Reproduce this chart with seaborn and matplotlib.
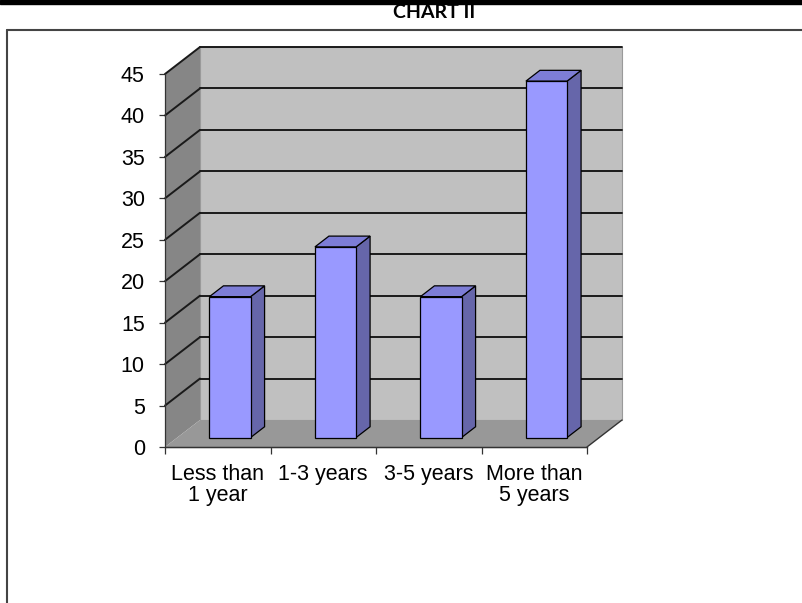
import numpy as np
import pandas as pd
import matplotlib
matplotlib.use("Agg")
import matplotlib.pyplot as plt
from matplotlib.patches import Polygon, Rectangle
from matplotlib.lines import Line2D
from matplotlib.transforms import IdentityTransform, Affine2D
import seaborn as sns

# Data
categories = ["Less than\n1 year", "1-3 years", "3-5 years", "More than\n5 years"]
percent = [17, 23, 17, 43]
y_ticks = [0, 5, 10, 15, 20, 25, 30, 35, 40, 45]

# Colours (classic 3-D column look)
FRONT = "#9999FF"
SIDE = "#6666AA"
TOP = "#7D7DD6"
BACK_WALL = "#C0C0C0"
SIDE_WALL = "#868686"
FLOOR = "#989898"
GRID = "#1A1A1A"

sns.set_theme(style="white")
plt.rcParams["font.family"] = ["Liberation Sans", "DejaVu Sans"]

W, H = 803, 603
fig = plt.figure(figsize=(W / 100, H / 100), dpi=100)
ax = fig.add_axes([165 / W, (H - 447) / H, (587 - 165) / W, (447 - 74) / H])
ax.set_facecolor("none")

df = pd.DataFrame({"tenure": categories, "percent": percent})
sns.barplot(data=df, x="tenure", y="percent", ax=ax, width=0.39,
            color=FRONT, saturation=1, edgecolor="black", linewidth=0.9,
            zorder=6)
bars = list(ax.containers[0])
ax.set_xlim(-0.5, 3.5)
ax.set_ylim(0, 45)

# depth of the 3-D box in pixels (right, up)
DX, DY = 35, 27
BAR_D0, BAR_D1 = 0.35, 0.75


def to_px(x, y, d):
    px, py = ax.transData.transform((x, y))
    return (px + d * DX, py + d * DY)


def poly(pts, fc, ec="none", lw=0.0, z=1):
    p = Polygon(pts, closed=True, facecolor=fc, edgecolor=ec, linewidth=lw,
                transform=IdentityTransform(), clip_on=False, zorder=z)
    ax.add_artist(p)


def seg(p0, p1, color=GRID, lw=1.4, z=2):
    ax.add_artist(Line2D([p0[0], p1[0]], [p0[1], p1[1]], color=color,
                         linewidth=lw, transform=IdentityTransform(),
                         clip_on=False, zorder=z))


x0, x1 = ax.get_xlim()
ytop = y_ticks[-1]

# back wall, side wall and floor
poly([to_px(x0, 0, 1), to_px(x1, 0, 1), to_px(x1, ytop, 1), to_px(x0, ytop, 1)],
     BACK_WALL, ec="#9a9a9a", lw=0.8, z=0.5)
poly([to_px(x0, 0, 0), to_px(x0, ytop, 0), to_px(x0, ytop, 1), to_px(x0, 0, 1)],
     SIDE_WALL, z=0.6)
poly([to_px(x0, 0, 0), to_px(x1, 0, 0), to_px(x1, 0, 1), to_px(x0, 0, 1)],
     FLOOR, z=0.7)
seg(to_px(x1, 0, 0), to_px(x1, 0, 1), color="#333333", lw=1.0, z=0.8)
seg(to_px(x0, 0, 0), to_px(x1, 0, 0), color="#555555", lw=1.0, z=0.8)

# gridlines on back and side walls
for v in y_ticks[1:]:
    seg(to_px(x0, v, 1), to_px(x1, v, 1))
    seg(to_px(x0, v, 0), to_px(x0, v, 1))

# give the seaborn bars depth: shift the front face and add side and top
shift = Affine2D().translate(BAR_D0 * DX, BAR_D0 * DY)
for bar in bars:
    bx, bw, bh = bar.get_x(), bar.get_width(), bar.get_height()
    bar.set_transform(ax.transData + shift)
    poly([to_px(bx + bw, 0, BAR_D0), to_px(bx + bw, 0, BAR_D1),
          to_px(bx + bw, bh, BAR_D1), to_px(bx + bw, bh, BAR_D0)],
         SIDE, ec="black", lw=0.9, z=5)
    poly([to_px(bx, bh, BAR_D0), to_px(bx + bw, bh, BAR_D0),
          to_px(bx + bw, bh, BAR_D1), to_px(bx, bh, BAR_D1)],
         TOP, ec="black", lw=0.9, z=5)

# axes, ticks and labels
sns.despine(ax=ax)
for s in ("left", "bottom"):
    ax.spines[s].set_color("#333333")
    ax.spines[s].set_linewidth(0.9)
ax.set_yticks(y_ticks)
ax.tick_params(axis="y", direction="out", left=True, length=4.5, width=0.9,
               color="#333333", pad=10, labelsize=15.5, labelcolor="black")
ax.set_xticks([-0.5, 0.5, 1.5, 2.5, 3.5])
ax.set_xticklabels([])
ax.set_xticks(range(len(categories)), minor=True)
ax.set_xticklabels(categories, minor=True, linespacing=1.0)
ax.tick_params(axis="x", which="major", direction="out", bottom=True,
               length=5, width=0.9, color="#333333")
ax.tick_params(axis="x", which="minor", bottom=True, length=0, pad=12,
               labelsize=15.5, labelcolor="black")
ax.set_xlabel("")
ax.set_ylabel("")

# page decorations: top band, title, frame
fig.add_artist(Rectangle((0, 1 - 4 / H), 1, 4 / H, transform=fig.transFigure,
                         color="black", zorder=10))
fig.text(434 / W, 1 - 12 / H, "CHART II", ha="center", va="center",
         fontsize=14, fontweight="bold", color="black",
         family=["Lato", "DejaVu Sans"])
fig.add_artist(Line2D([7 / W, 1], [1 - 30 / H, 1 - 30 / H],
                      transform=fig.transFigure, color="#444444", linewidth=1.5))
fig.add_artist(Line2D([7 / W, 7 / W], [0, 1 - 30 / H],
                      transform=fig.transFigure, color="#444444", linewidth=1.5))

fig.savefig("out.png", dpi=100)
